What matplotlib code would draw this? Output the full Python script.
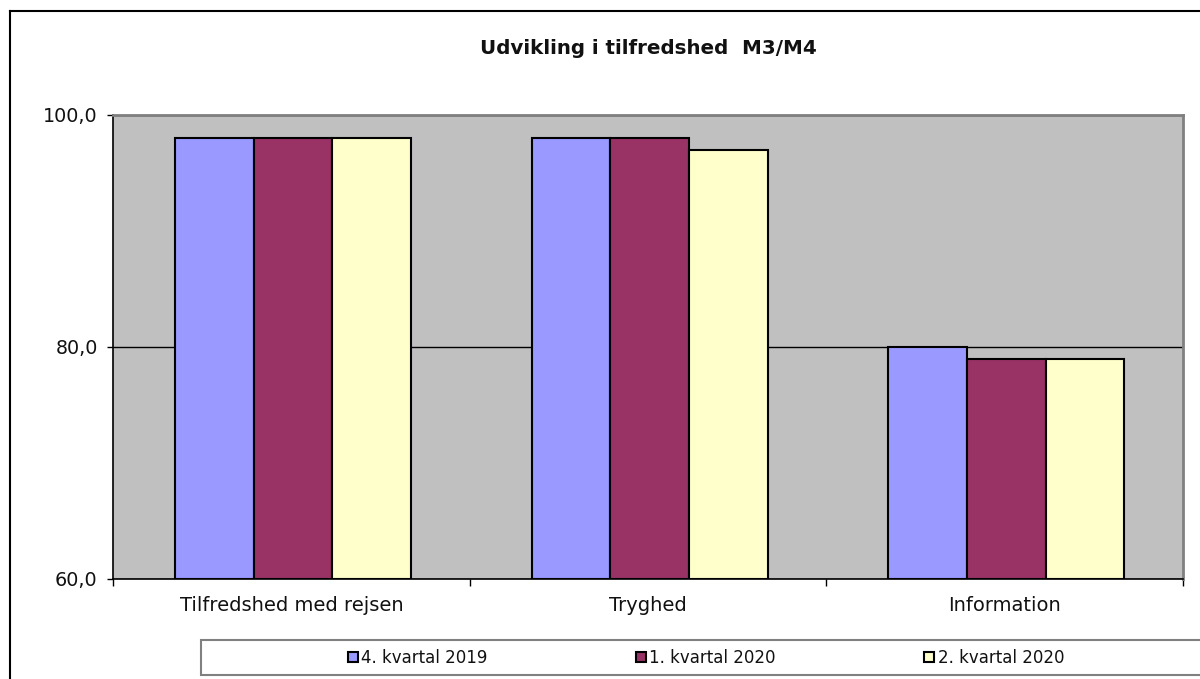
import matplotlib
matplotlib.use("Agg")
import matplotlib.pyplot as plt
import numpy as np
from matplotlib.patches import Rectangle
from matplotlib.ticker import FuncFormatter

categories = ["Tilfredshed med rejsen", "Tryghed", "Information"]
series_names = ["4. kvartal 2019", "1. kvartal 2020", "2. kvartal 2020"]
q4_2019 = [98, 98, 80]
q1_2020 = [98, 98, 79]
q2_2020 = [98, 97, 79]
colors = ["#9999FF", "#993366", "#FFFFCC"]
yticks = [60, 80, 100]

plt.rcParams['font.family'] = ['DejaVu Sans']

fig = plt.figure(figsize=(12, 6.79), dpi=100)
W, H = 1200, 679
ax = fig.add_axes([113 / W, 1 - 579 / H, (1183 - 113) / W, (579 - 115) / H])
ax.set_facecolor("#C0C0C0")

x = np.arange(len(categories))
bw = 0.2205
handles = []
for i, (vals, name, c) in enumerate(zip([q4_2019, q1_2020, q2_2020], series_names, colors)):
    b = ax.bar(x + (i - 1) * bw + 0.005, [v - 60 for v in vals], bw, bottom=60, color=c,
               edgecolor="black", linewidth=1.5, label=name, zorder=3)
    handles.append(b)

ax.set_xlim(-0.5, 2.5)
ax.set_ylim(60, 100)
ax.set_yticks(yticks)
ax.yaxis.set_major_formatter(FuncFormatter(lambda v, p: f"{v:.1f}".replace(".", ",")))
ax.set_xticks(np.arange(-0.5, 2.6, 1.0))
ax.set_xticklabels([])
ax.set_xticks(x, minor=True)
ax.set_xticklabels(categories, minor=True)
ax.tick_params(axis="x", which="minor", length=0, pad=12, labelsize=14, colors="#111111")
ax.tick_params(axis="x", which="major", length=5, width=1, direction="out", color="black")
ax.tick_params(axis="y", length=4, width=1, direction="out", labelsize=13.8, pad=7,
               labelcolor="#111111")
ax.grid(axis="y", color="black", linewidth=1, zorder=1)
ax.set_axisbelow(True)
for s in ["left", "bottom"]:
    ax.spines[s].set_color("black")
    ax.spines[s].set_linewidth(1.2)
for s in ["top", "right"]:
    ax.spines[s].set_color("#808080")
    ax.spines[s].set_linewidth(2)

fig.text(648 / W, 1 - 49 / H, "Udvikling i tilfredshed  M3/M4", ha="center", va="center",
         fontsize=14.3, fontweight="bold", color="#111111")

# figure border (left and top)
fig.add_artist(plt.Line2D([9.5 / W, 9.5 / W], [0, 1 - 11 / H], transform=fig.transFigure,
                          color="black", linewidth=1.5))
fig.add_artist(plt.Line2D([9.5 / W, 1], [1 - 11 / H, 1 - 11 / H], transform=fig.transFigure,
                          color="black", linewidth=1.5))

# legend frame (extends past right edge as in reference)
fig.add_artist(Rectangle((201 / W, 1 - 675 / H), 1020 / W, 35 / H, transform=fig.transFigure,
                         facecolor="white", edgecolor="#808080", linewidth=1.5, zorder=1))

leg = fig.legend(handles=handles, labels=series_names, ncol=3,
                 loc="center left",
                 bbox_to_anchor=(348 / W, 1 - 658 / H),
                 frameon=False, fontsize=12,
                 handlelength=0.6, handleheight=0.6, handletextpad=0.2,
                 columnspacing=8.9, borderaxespad=0, borderpad=0)
leg.set_zorder(5)
for t in leg.get_texts():
    t.set_color("#111111")

fig.savefig("out.png", dpi=100)
